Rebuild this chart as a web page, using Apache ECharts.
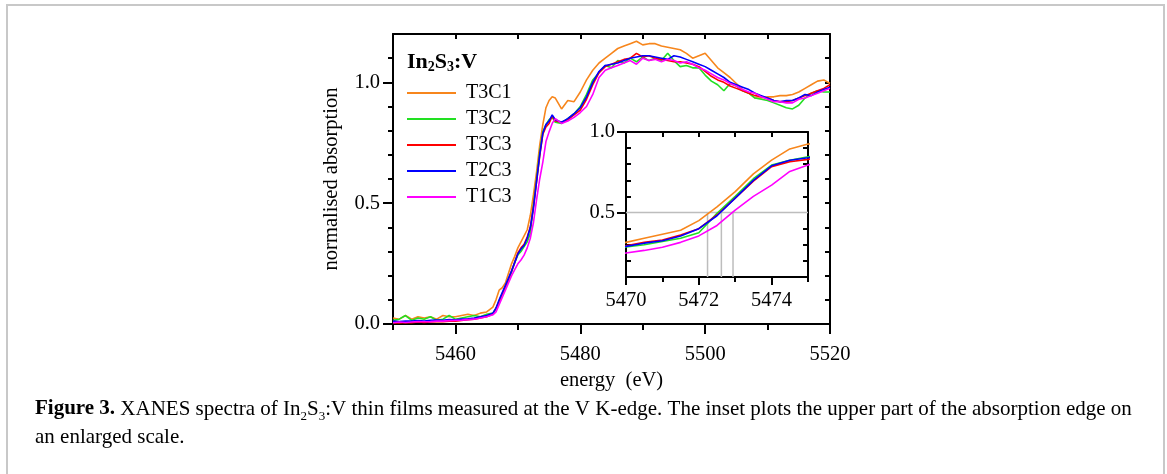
<!DOCTYPE html>
<html>
<head>
<meta charset="utf-8">
<script src="https://cdn.jsdelivr.net/npm/echarts@6/dist/echarts.min.js"></script>
<style>
html,body{margin:0;padding:0;background:#fff;}
#chart{width:1167px;height:474px;}
</style>
</head>
<body>
<div id="chart"></div>
<script>
// ---------- data ----------
const energy = [
  5450,5451,5452,5453,5454,5455,5456,5457,5458,5459,5460,5461,5462,5463,5464,5465,5466,
  5466.5,5467,5467.5,5468,5468.5,5469,5469.5,5470,5470.5,5471,5471.5,5472,5472.5,5473,5473.5,5474,5474.5,5475,5475.5,5476,
  5477,5478,5479,5480,5481,5482,5483,5484,5485,5486,5487,5488,5489,5490,5491,5492,5493,5494,5495,5496,
  5497,5498,5499,5500,5501,5502,5503,5504,5505,5506,5507,5508,5509,5510,5511,5512,5513,5514,5515,5516,
  5517,5518,5519,5520
];
const T3C1 = [
  0.025,0.02,0.035,0.02,0.03,0.025,0.03,0.02,0.035,0.03,0.03,0.035,0.04,0.035,0.045,0.05,0.07,
  0.10,0.14,0.15,0.17,0.21,0.25,0.28,0.315,0.34,0.365,0.39,0.45,0.535,0.63,0.74,0.825,0.895,0.925,0.94,0.935,
  0.89,0.925,0.92,0.96,1.01,1.05,1.08,1.10,1.12,1.14,1.15,1.16,1.17,1.155,1.16,1.16,1.15,1.145,1.14,1.135,
  1.12,1.10,1.11,1.12,1.09,1.06,1.04,1.02,0.995,0.97,0.955,0.935,0.935,0.94,0.94,0.945,0.945,0.95,0.96,0.975,
  0.99,1.005,1.01,0.995
];
const T3C2 = [
  0.015,0.02,0.035,0.015,0.025,0.02,0.03,0.015,0.02,0.035,0.02,0.025,0.03,0.035,0.03,0.04,0.045,
  0.065,0.09,0.12,0.15,0.18,0.215,0.255,0.286,0.30,0.32,0.34,0.375,0.495,0.60,0.71,0.795,0.825,0.846,0.855,0.835,
  0.83,0.85,0.87,0.90,0.95,1.01,1.04,1.07,1.06,1.09,1.08,1.10,1.085,1.105,1.09,1.10,1.09,1.12,1.09,1.065,
  1.07,1.06,1.06,1.03,1.005,0.99,0.965,0.995,0.985,0.965,0.955,0.935,0.93,0.925,0.915,0.905,0.895,0.89,0.905,0.935,
  0.955,0.965,0.96,0.96
];
const T3C3 = [
  0.005,0.004,0.006,0.005,0.008,0.006,0.008,0.01,0.01,0.012,0.012,0.015,0.018,0.02,0.025,0.03,0.04,
  0.065,0.095,0.125,0.155,0.185,0.22,0.255,0.294,0.315,0.33,0.36,0.40,0.485,0.59,0.695,0.785,0.815,0.83,0.86,0.84,
  0.835,0.845,0.865,0.885,0.93,0.99,1.04,1.065,1.075,1.085,1.095,1.10,1.12,1.105,1.11,1.10,1.095,1.09,1.085,1.085,
  1.08,1.075,1.065,1.045,1.025,1.01,1.0,0.985,0.975,0.965,0.955,0.945,0.94,0.935,0.925,0.92,0.92,0.925,0.935,0.945,
  0.955,0.965,0.975,0.99
];
const T2C3 = [
  0.012,0.01,0.012,0.012,0.014,0.012,0.015,0.016,0.015,0.018,0.017,0.02,0.022,0.025,0.03,0.035,0.045,
  0.065,0.10,0.13,0.16,0.19,0.22,0.255,0.29,0.31,0.325,0.355,0.40,0.48,0.59,0.70,0.79,0.825,0.84,0.865,0.845,
  0.835,0.85,0.87,0.895,0.94,1.0,1.045,1.07,1.075,1.08,1.09,1.10,1.105,1.11,1.11,1.105,1.10,1.095,1.11,1.105,
  1.095,1.085,1.075,1.065,1.05,1.035,1.02,1.0,0.99,0.98,0.97,0.955,0.945,0.935,0.925,0.92,0.925,0.925,0.935,0.95,
  0.945,0.96,0.97,0.98
];
const T1C3 = [
  0.005,0.008,0.006,0.008,0.01,0.009,0.01,0.012,0.012,0.014,0.015,0.016,0.018,0.02,0.025,0.03,0.038,
  0.05,0.08,0.11,0.14,0.17,0.20,0.225,0.249,0.265,0.285,0.315,0.355,0.42,0.515,0.60,0.67,0.755,0.795,0.83,0.85,
  0.83,0.84,0.855,0.875,0.90,0.95,1.02,1.05,1.06,1.07,1.08,1.09,1.075,1.10,1.09,1.095,1.085,1.095,1.09,1.08,
  1.085,1.075,1.06,1.05,1.035,1.02,1.01,0.995,0.985,0.97,0.96,0.955,0.94,0.93,0.92,0.92,0.915,0.915,0.93,0.935,
  0.945,0.955,0.965,0.975
];
const seriesNames = ['T3C1','T3C2','T3C3','T2C3','T1C3'];
const seriesValues = [T3C1, T3C2, T3C3, T2C3, T1C3];
const seriesColors = ['#f7861c','#22e022','#ff0000','#0000ff','#ff00ff'];

// inset reference markers
const halfLevel = 0.5;
const halfEdgeEnergies = [5472.24, 5472.62, 5472.94];

// tick labels
const mainXLabels = [5460, 5480, 5500, 5520];
const mainXMinor = [5450, 5470, 5490, 5510];
const mainYLabels = [0, 0.5, 1.0];
const mainYMinor = [0.1,0.2,0.3,0.4,0.6,0.7,0.8,0.9,1.1];
const mainYAll = [0.1,0.2,0.3,0.4,0.5,0.6,0.7,0.8,0.9,1.0,1.1];
const insetXLabels = [5470, 5472, 5474];
const insetXMinor = [5471, 5473, 5475];
const insetYLabels = [0.5, 1.0];
const insetYMinor = [0.2,0.3,0.4,0.6,0.7,0.8,0.9];

// ---------- chart ----------
const FONT = 'Liberation Serif';
const FS = 20.5;
const BLK = '#000';
const lineAx = {show:true, onZero:false, lineStyle:{color:BLK, width:2}};
const noLine = {show:false, onZero:false};
const fmt1 = v => Number(v).toFixed(1);
const fmt0 = v => String(Math.round(v));

const chart = echarts.init(document.getElementById('chart'), null, {renderer:'canvas'});

const xAxes = [
  {gridIndex:0, type:'value', position:'bottom', min:5450, max:5520, interval:10,
   axisLine:lineAx, splitLine:{show:false},
   axisTick:{show:true, customValues:mainXLabels, length:10, lineStyle:{color:BLK,width:2}},
   axisLabel:{show:true, customValues:mainXLabels, formatter:fmt0, margin:20, fontSize:FS, fontFamily:FONT, color:BLK},
   name:'energy  (eV)', nameLocation:'middle', nameGap:43,
   nameTextStyle:{fontSize:FS, fontFamily:FONT, color:BLK}},
  {gridIndex:0, type:'value', position:'bottom', min:5450, max:5520, interval:10,
   axisLine:noLine, splitLine:{show:false}, axisLabel:{show:false},
   axisTick:{show:true, customValues:mainXMinor, length:6, lineStyle:{color:BLK,width:2}}},
  {gridIndex:0, type:'value', position:'top', min:5450, max:5520, interval:10,
   axisLine:lineAx, splitLine:{show:false}, axisLabel:{show:false},
   axisTick:{show:true, inside:true, length:5, lineStyle:{color:BLK,width:2}}},
  {gridIndex:1, type:'value', position:'bottom', min:5470, max:5475, interval:1,
   axisLine:lineAx, splitLine:{show:false},
   axisTick:{show:true, customValues:insetXLabels, length:8, lineStyle:{color:BLK,width:2}},
   axisLabel:{show:true, customValues:insetXLabels, formatter:fmt0, margin:13, fontSize:FS, fontFamily:FONT, color:BLK}},
  {gridIndex:1, type:'value', position:'bottom', min:5470, max:5475, interval:1,
   axisLine:noLine, splitLine:{show:false}, axisLabel:{show:false},
   axisTick:{show:true, customValues:insetXMinor, length:5, lineStyle:{color:BLK,width:2}}},
  {gridIndex:1, type:'value', position:'top', min:5470, max:5475, interval:1,
   axisLine:lineAx, splitLine:{show:false}, axisLabel:{show:false},
   axisTick:{show:true, inside:true, length:5, lineStyle:{color:BLK,width:2}}}
];
const yAxes = [
  {gridIndex:0, type:'value', position:'left', min:0, max:1.2, interval:0.1,
   axisLine:lineAx, splitLine:{show:false},
   axisTick:{show:true, customValues:mainYLabels, length:10, lineStyle:{color:BLK,width:2}},
   axisLabel:{show:true, customValues:mainYLabels, formatter:fmt1, margin:13, fontSize:FS, fontFamily:FONT, color:BLK},
   name:'normalised absorption', nameLocation:'middle', nameGap:51, nameRotate:90,
   nameTextStyle:{fontSize:FS, fontFamily:FONT, color:BLK}},
  {gridIndex:0, type:'value', position:'left', min:0, max:1.2, interval:0.1,
   axisLine:noLine, splitLine:{show:false}, axisLabel:{show:false},
   axisTick:{show:true, customValues:mainYMinor, length:5, lineStyle:{color:BLK,width:2}}},
  {gridIndex:0, type:'value', position:'right', min:0, max:1.2, interval:0.1,
   axisLine:lineAx, splitLine:{show:false}, axisLabel:{show:false},
   axisTick:{show:true, inside:true, customValues:mainYAll, length:5, lineStyle:{color:BLK,width:2}}},
  {gridIndex:1, type:'value', position:'left', min:0.1, max:1.0, interval:0.1,
   axisLine:lineAx, splitLine:{show:false},
   axisTick:{show:true, customValues:insetYLabels, length:9, lineStyle:{color:BLK,width:2}},
   axisLabel:{show:true, customValues:insetYLabels, formatter:fmt1, margin:11, fontSize:FS, fontFamily:FONT, color:BLK}},
  {gridIndex:1, type:'value', position:'left', min:0.1, max:1.0, interval:0.1,
   axisLine:noLine, splitLine:{show:false}, axisLabel:{show:false},
   axisTick:{show:true, inside:true, customValues:insetYMinor, length:5, lineStyle:{color:BLK,width:2}}},
  {gridIndex:1, type:'value', position:'right', min:0.1, max:1.0, interval:0.1,
   axisLine:lineAx, splitLine:{show:false}, axisLabel:{show:false},
   axisTick:{show:true, inside:true, customValues:insetYMinor, length:5, lineStyle:{color:BLK,width:2}}}
];

const series = [];
seriesNames.forEach((name, k) => {
  series.push({
    name: name, type:'line', xAxisIndex:0, yAxisIndex:0,
    data: energy.map((e, i) => [e, seriesValues[k][i]]),
    symbol:'none', showSymbol:false, clip:true, animation:false,
    color: seriesColors[k],
    lineStyle:{color:seriesColors[k], width:1.6}
  });
});
// inset guide lines
const gray = '#bdbdbd';
series.push({
  name:'half level', type:'line', xAxisIndex:3, yAxisIndex:3,
  data:[[5470, halfLevel],[5475, halfLevel]], symbol:'none', animation:false, silent:true,
  lineStyle:{color:gray, width:1.5}, z:1
});
halfEdgeEnergies.forEach((e, j) => {
  series.push({
    name:'edge ' + j, type:'line', xAxisIndex:3, yAxisIndex:3,
    data:[[e, 0.1],[e, halfLevel]], symbol:'none', animation:false, silent:true,
    lineStyle:{color:gray, width:1.5}, z:1
  });
});
seriesNames.forEach((name, k) => {
  series.push({
    name: name + ' inset', type:'line', xAxisIndex:3, yAxisIndex:3,
    data: energy.map((e, i) => [e, seriesValues[k][i]]),
    symbol:'none', showSymbol:false, clip:true, animation:false,
    color: seriesColors[k],
    lineStyle:{color:seriesColors[k], width:1.6}, z:2
  });
});

const option = {
  backgroundColor:'#fff',
  animation:false,
  grid:[
    {left:393, top:34, width:437, height:290, containLabel:false},
    {left:626, top:132, width:182, height:145, containLabel:false}
  ],
  xAxis: xAxes,
  yAxis: yAxes,
  title:[
    {text:'In{s|2}S{s|3}:V', left:407, top:50, padding:0,
     textStyle:{fontSize:22, fontWeight:'bold', fontFamily:FONT, color:BLK, lineHeight:24,
       rich:{s:{fontSize:14, fontWeight:'bold', fontFamily:FONT, color:BLK, verticalAlign:'bottom', lineHeight:10}}}},
    {text:'{b|Figure 3.} XANES spectra of In{s|2}S{s|3}:V thin films measured at the V K-edge. The inset plots the upper part of the absorption edge on\nan enlarged scale.',
     left:35, top:395, padding:0,
     textStyle:{fontSize:21, fontWeight:'normal', fontFamily:FONT, color:BLK, lineHeight:28,
       rich:{b:{fontSize:21, fontWeight:'bold', fontFamily:FONT, color:BLK, lineHeight:28},
             s:{fontSize:13, fontFamily:FONT, color:BLK, verticalAlign:'bottom', lineHeight:17}}}}
  ],
  legend:{
    data: seriesNames, orient:'vertical', left:407, top:83, padding:0,
    icon:'rect', itemWidth:49, itemHeight:2, itemGap:6,
    textStyle:{fontSize:20, fontFamily:FONT, color:BLK, lineHeight:20, padding:[0,0,0,5]},
    selectedMode:false
  },
  graphic:[
    {type:'rect', shape:{x:7, y:5, width:1157, height:520},
     style:{fill:'none', stroke:'#c8c8c8', lineWidth:2}, silent:true, z:-1}
  ],
  series: series
};
chart.setOption(option);
</script>
</body>
</html>
